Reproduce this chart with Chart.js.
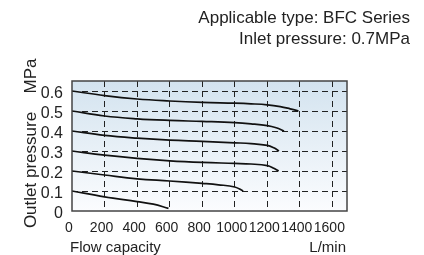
<!DOCTYPE html>
<html>
<head>
<meta charset="utf-8">
<script src="https://cdn.jsdelivr.net/npm/chart.js@4"></script>
<style>
  html, body { margin: 0; padding: 0; background: #fff; }
  #wrap { position: relative; width: 424px; height: 255px; overflow: hidden; }
  #wrap canvas { position: absolute; left: 0; top: 0; }
  .lbl { position: absolute; font-family: "Liberation Sans", Arial, sans-serif; color: #222; white-space: nowrap; }
  #title { right: 14px; top: 7px; font-size: 17px; line-height: 21px; text-align: right; }
  #xname { left: 70px; top: 238px; font-size: 15px; line-height: 18px; }
  #xunit { right: 78px; top: 238px; font-size: 15px; line-height: 18px; }
  .rot { font-size: 17px; line-height: 1; transform: translate(-50%, -50%) rotate(-90deg); }
  #yname { left: 30px; top: 170px; }
  #yunit { left: 30px; top: 76px; }
</style>
</head>
<body>
<div id="wrap">
  <canvas id="chart" width="424" height="255"></canvas>
  <div class="lbl" id="title">Applicable type: BFC Series<br>Inlet pressure: 0.7MPa</div>
  <div class="lbl rot" id="yname">Outlet pressure</div>
  <div class="lbl rot" id="yunit">MPa</div>
  <div class="lbl" id="xname">Flow capacity</div>
  <div class="lbl" id="xunit">L/min</div>
</div>
<script>
// =======================
// DATA
// =======================
const xTicks = [0, 200, 400, 600, 800, 1000, 1200, 1400, 1600];
const yTicks = [0, 0.1, 0.2, 0.3, 0.4, 0.5, 0.6];

const flow06 = [0, 200, 400, 600, 800, 1000, 1100, 1200, 1280, 1340, 1392];
const pres06 = [0.600, 0.577, 0.560, 0.550, 0.543, 0.539, 0.536, 0.531, 0.522, 0.511, 0.500];

const flow05 = [0, 200, 400, 600, 800, 1000, 1100, 1200, 1255, 1303];
const pres05 = [0.500, 0.475, 0.461, 0.453, 0.448, 0.442, 0.436, 0.427, 0.416, 0.400];

const flow04 = [0, 200, 400, 600, 800, 1000, 1100, 1200, 1240, 1272];
const pres04 = [0.400, 0.378, 0.364, 0.354, 0.348, 0.341, 0.337, 0.328, 0.316, 0.300];

const flow03 = [0, 200, 400, 600, 800, 1000, 1100, 1200, 1240, 1270];
const pres03 = [0.300, 0.279, 0.263, 0.251, 0.243, 0.238, 0.235, 0.227, 0.214, 0.200];

const flow02 = [0, 200, 400, 600, 800, 900, 1000, 1052];
const pres02 = [0.200, 0.180, 0.161, 0.150, 0.138, 0.131, 0.120, 0.100];

const flow01 = [0, 200, 400, 500, 593];
const pres01 = [0.100, 0.071, 0.047, 0.034, 0.013];

const curves = [
    [flow06, pres06],
    [flow05, pres05],
    [flow04, pres04],
    [flow03, pres03],
    [flow02, pres02],
    [flow01, pres01]
];

// =======================
// PLOT BACKGROUND + FRAME
// =======================
const framePlugin = {
    id: "frame",
    beforeDraw(chart) {
        const a = chart.chartArea;
        const ctx = chart.ctx;
        const g = ctx.createLinearGradient(0, a.top, 0, a.bottom);
        g.addColorStop(0, "#d3e3ef");
        g.addColorStop(1, "#fbfcfe");
        ctx.save();
        ctx.fillStyle = g;
        ctx.fillRect(a.left, a.top, a.right - a.left, a.bottom - a.top);
        ctx.restore();
    },
    afterDraw(chart) {
        const a = chart.chartArea;
        const ctx = chart.ctx;
        ctx.save();
        ctx.strokeStyle = "#444";
        ctx.lineWidth = 1.5;
        ctx.strokeRect(a.left, a.top, a.right - a.left, a.bottom - a.top);
        ctx.restore();
    }
};

const tickFont = { family: "'Liberation Sans Narrow', 'Liberation Sans', Arial", size: 14 };

new Chart(document.getElementById("chart"), {
    type: "line",
    data: {
        datasets: curves.map(c => ({
            data: c[0].map((x, i) => ({ x: x, y: c[1][i] })),
            borderColor: "#111",
            borderWidth: 1.7,
            pointRadius: 0,
            fill: false,
            tension: 0.4
        }))
    },
    options: {
        responsive: false,
        animation: false,
        events: [],
        layout: { padding: { top: 81, right: 77, left: 0, bottom: 0 } },
        plugins: {
            legend: { display: false },
            tooltip: { enabled: false }
        },
        scales: {
            x: {
                type: "linear",
                min: 0,
                max: 1690,
                afterBuildTicks: s => { s.ticks = xTicks.map(v => ({ value: v })); },
                afterFit: s => { s.height = 44; },
                grid: {
                    color: c => c.tick && c.tick.value === 0 ? "rgba(0,0,0,0)" : "#222",
                    lineWidth: 1,
                    drawTicks: false
                },
                border: { display: false, dash: [6, 4] },
                ticks: {
                    color: "#222",
                    font: tickFont,
                    padding: 9,
                    labelOffset: -3,
                    maxRotation: 0,
                    autoSkip: false,
                    callback: v => String(v)
                }
            },
            y: {
                type: "linear",
                min: 0,
                max: 0.65,
                afterBuildTicks: s => { s.ticks = yTicks.map(v => ({ value: v })); },
                afterFit: s => { s.width = 72; },
                grid: {
                    color: c => c.tick && c.tick.value === 0 ? "rgba(0,0,0,0)" : "#222",
                    lineWidth: 1,
                    drawTicks: false
                },
                border: { display: false, dash: [6, 4] },
                ticks: {
                    color: "#222",
                    font: { family: "'Liberation Sans Narrow', 'Liberation Sans', Arial", size: 16 },
                    padding: 9,
                    labelOffset: 3,
                    autoSkip: false,
                    callback: v => v === 0 ? "0" : v.toFixed(1)
                }
            }
        }
    },
    plugins: [framePlugin]
});
</script>
</body>
</html>
